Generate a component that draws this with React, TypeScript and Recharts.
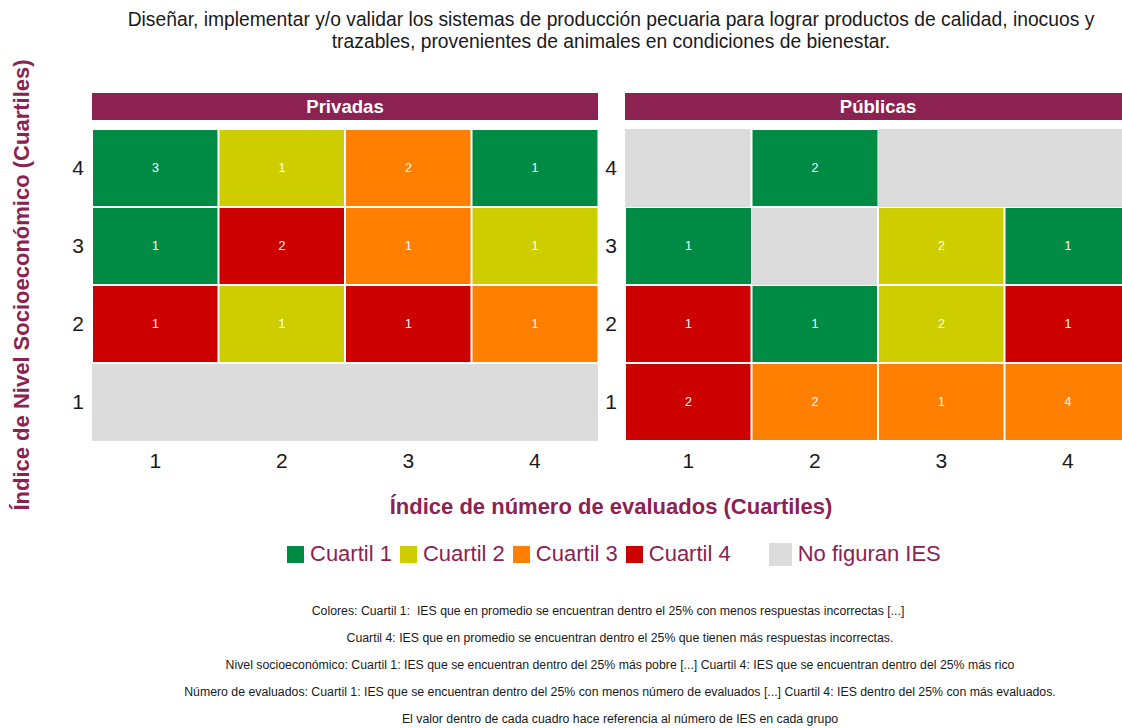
import React from 'react';
import { BarChart, Bar, XAxis, YAxis, Cell, LabelList } from 'recharts';

const cuartilesX = ['1', '2', '3', '4'];
const cuartilesY = ['1', '2', '3', '4'];

// filas: nivel socioeconómico 1..4, columnas: número de evaluados 1..4; 0 = no figuran IES
const privadasCuartil = [
  [0, 0, 0, 0],
  [4, 2, 4, 3],
  [1, 4, 3, 2],
  [1, 2, 3, 1],
];
const privadasConteo = [
  [0, 0, 0, 0],
  [1, 1, 1, 1],
  [1, 2, 1, 1],
  [3, 1, 2, 1],
];
const publicasCuartil = [
  [4, 3, 3, 3],
  [4, 1, 2, 4],
  [1, 0, 2, 1],
  [0, 1, 0, 0],
];
const publicasConteo = [
  [2, 2, 1, 4],
  [1, 1, 2, 1],
  [1, 0, 2, 1],
  [0, 2, 0, 0],
];

const colores = ['#DCDCDC', '#008B45', '#CDCD00', '#FF7F00', '#CD0000'];
const leyenda = ['Cuartil 1', 'Cuartil 2', 'Cuartil 3', 'Cuartil 4'];

const notas = [
  'Colores: Cuartil 1:\u00a0 IES que en promedio se encuentran dentro el 25% con menos respuestas incorrectas [...]',
  'Cuartil 4: IES que en promedio se encuentran dentro el 25% que tienen más respuestas incorrectas.',
  'Nivel socioeconómico: Cuartil 1: IES que se encuentran dentro del 25% más pobre [...] Cuartil 4: IES que se encuentran dentro del 25% más rico',
  'Número de evaluados: Cuartil 1: IES que se encuentran dentro del 25% con menos número de evaluados [...] Cuartil 4: IES dentro del 25% con más evaluados.',
  'El valor dentro de cada cuadro hace referencia al número de IES en cada grupo',
];

const FONT = '"Liberation Sans", Arial, sans-serif';
const MAROON = '#8B2252';

const buildRows = (cuartil: number[][], conteo: number[][]) =>
  cuartilesX.map((x, j) => {
    const row: Record<string, any> = { x };
    cuartilesY.forEach((_, i) => {
      row['f' + i] = 1;
      row['q' + i] = cuartil[i][j];
      row['n' + i] = conteo[i][j];
    });
    return row;
  });

interface PanelProps {
  title: string;
  cuartil: number[][];
  conteo: number[][];
}

const Panel: React.FC<PanelProps> = ({ title, cuartil, conteo }) => {
  const data = buildRows(cuartil, conteo);
  return (
    <div style={{ position: 'relative' }}>
      <div
        style={{
          position: 'absolute',
          left: 30,
          top: 0,
          width: 506,
          height: 27,
          background: MAROON,
          color: '#fff',
          fontWeight: 'bold',
          fontSize: 18.6,
          lineHeight: '27px',
          textAlign: 'center',
        }}
      >
        {title}
      </div>
      <div style={{ position: 'absolute', left: 0, top: 36 }}>
        <BarChart
          width={536}
          height={352}
          data={data}
          margin={{ top: 0, right: 0, bottom: 0, left: 0 }}
          barCategoryGap={0}
          barGap={0}
        >
          <XAxis
            dataKey="x"
            axisLine={false}
            tickLine={false}
            tickSize={0}
            tickMargin={12}
            height={40}
            interval={0}
            tick={{ fontSize: 21, fill: '#1a1a1a', fontFamily: FONT }}
          />
          <YAxis
            type="number"
            domain={[0, 4]}
            ticks={[0.5, 1.5, 2.5, 3.5]}
            tickFormatter={(v: number) => cuartilesY[Math.floor(v)]}
            axisLine={false}
            tickLine={false}
            tickSize={0}
            tickMargin={8}
            width={30}
            tick={{ fontSize: 21, fill: '#1a1a1a', fontFamily: FONT }}
          />
          {cuartilesY.map((_, i) => (
            <Bar key={i} dataKey={'f' + i} stackId="a" isAnimationActive={false}>
              {data.map((d, j) => (
                <Cell
                  key={j}
                  fill={colores[d['q' + i]]}
                  stroke={d['q' + i] ? '#FFFFFF' : 'none'}
                  strokeWidth={2}
                />
              ))}
              <LabelList
                dataKey={'n' + i}
                position="center"
                fill="#FFFFFF"
                fontSize={12.5}
                fontFamily={FONT}
                formatter={(v: any) => (v ? v : '')}
              />
            </Bar>
          ))}
        </BarChart>
      </div>
    </div>
  );
};

const Swatch: React.FC<{ color: string; size: number }> = ({ color, size }) => (
  <span style={{ display: 'inline-block', width: size, height: size, background: color, marginRight: 6 }} />
);

const App: React.FC = () => (
  <div
    style={{
      position: 'absolute',
      left: 0,
      top: 0,
      width: 1122,
      height: 728,
      overflow: 'hidden',
      background: '#fff',
      fontFamily: FONT,
    }}
  >
    <div
      style={{
        position: 'absolute',
        left: 100,
        top: 9,
        width: 1022,
        textAlign: 'center',
        fontSize: 19.3,
        lineHeight: '22px',
        color: '#1a1a1a',
      }}
    >
      Diseñar, implementar y/o validar los sistemas de producción pecuaria para lograr productos de calidad, inocuos y
      <br />
      trazables, provenientes de animales en condiciones de bienestar.
    </div>

    <div
      style={{
        position: 'absolute',
        left: 22 - 300,
        top: 285 - 14,
        width: 600,
        height: 28,
        lineHeight: '28px',
        textAlign: 'center',
        transform: 'rotate(-90deg)',
        color: MAROON,
        fontWeight: 'bold',
        fontSize: 22,
        whiteSpace: 'nowrap',
      }}
    >
      Índice de Nivel Socioeconómico (Cuartiles)
    </div>

    <div style={{ position: 'absolute', left: 62, top: 93 }}>
      <Panel title="Privadas" cuartil={privadasCuartil} conteo={privadasConteo} />
    </div>
    <div style={{ position: 'absolute', left: 565, top: 93, width: 557, height: 400, overflow: 'hidden' }}>
      <div style={{ position: 'absolute', left: 30, top: 0 }}>
        <Panel title="Públicas" cuartil={publicasCuartil} conteo={publicasConteo} />
      </div>
    </div>

    <div
      style={{
        position: 'absolute',
        left: 100,
        top: 493,
        width: 1022,
        textAlign: 'center',
        color: MAROON,
        fontWeight: 'bold',
        fontSize: 22,
        lineHeight: '28px',
      }}
    >
      Índice de número de evaluados (Cuartiles)
    </div>

    <div
      style={{
        position: 'absolute',
        left: 287,
        top: 541,
        height: 26,
        display: 'flex',
        alignItems: 'center',
        color: MAROON,
        fontSize: 22,
        whiteSpace: 'nowrap',
      }}
    >
      {leyenda.map((l, k) => (
        <span key={l} style={{ display: 'flex', alignItems: 'center', marginRight: 8 }}>
          <Swatch color={colores[k + 1]} size={17} />
          {l}
        </span>
      ))}
      <span style={{ display: 'flex', alignItems: 'center', marginLeft: 30 }}>
        <Swatch color={colores[0]} size={23} />
        No figuran IES
      </span>
    </div>

    {notas.map((n, k) => (
      <div
        key={k}
        style={{
          position: 'absolute',
          left: 100,
          top: 603 + k * 27,
          width: 1040,
          textAlign: 'center',
          fontSize: 12.3,
          lineHeight: '17px',
          color: '#1a1a1a',
          paddingRight: k === 0 ? 24 : 0,
          boxSizing: 'border-box',
        }}
      >
        {n}
      </div>
    ))}
  </div>
);

export default App;
